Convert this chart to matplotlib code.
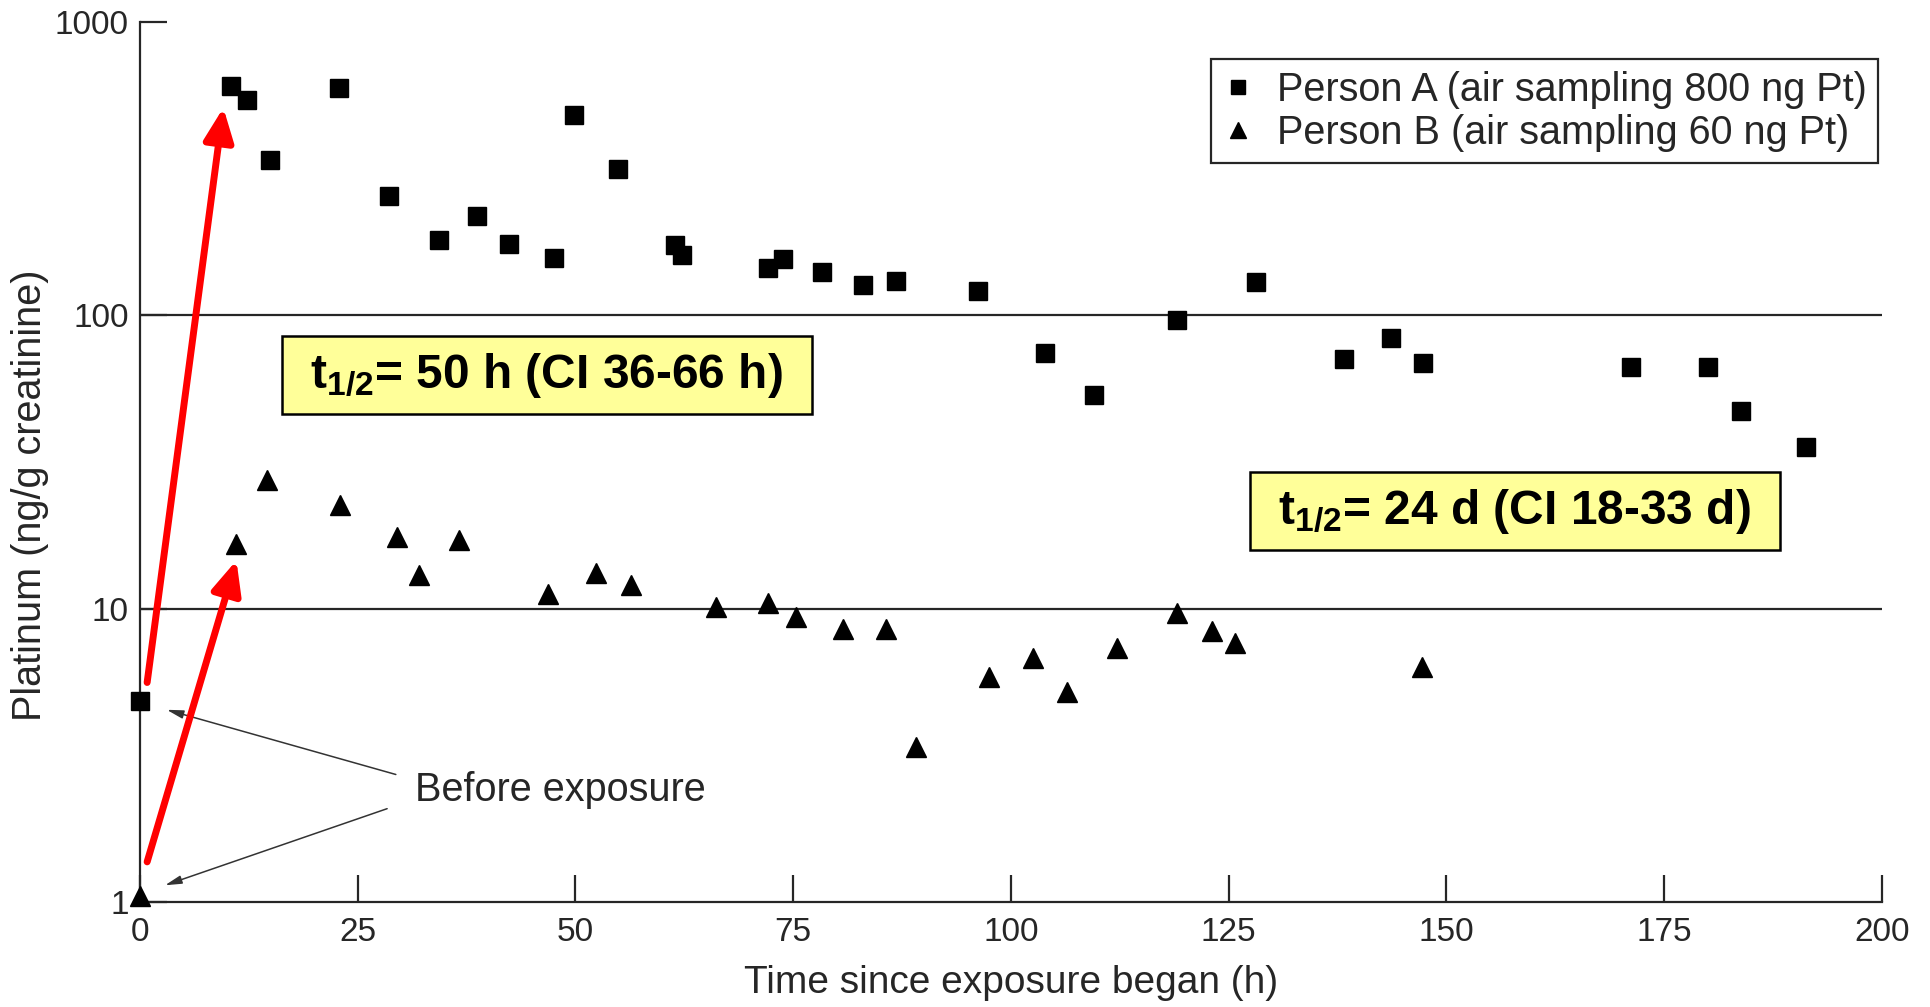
import numpy as np
import matplotlib
matplotlib.use("Agg")
import matplotlib.pyplot as plt

# ---------------------------------------------------------------------------
# Data
# ---------------------------------------------------------------------------
# Person A (air sampling 800 ng Pt) - squares
time_a = [0, 10.5, 12.3, 14.9, 22.9, 28.6, 34.4, 38.7, 42.4, 47.5, 49.8, 54.9,
          61.4, 62.3, 72.1, 73.9, 78.3, 83.0, 86.8, 96.2, 103.9, 109.6, 119.1,
          128.1, 138.3, 143.6, 147.3, 171.2, 180.0, 183.8, 191.3]
pt_a = [4.85, 603, 541, 338, 595, 255, 181, 218, 175, 157, 483, 316,
        173, 160, 145, 155, 141, 127, 131, 121, 74.6, 53.3, 96.7,
        130, 70.7, 84.0, 68.5, 66.4, 66.4, 47.3, 35.5]

# Person B (air sampling 60 ng Pt) - triangles
time_b = [0, 11.1, 14.65, 22.95, 29.5, 32.1, 36.6, 46.9, 52.4, 56.4, 66.2,
          72.1, 75.3, 80.7, 85.7, 89.1, 97.5, 102.5, 106.4, 112.2, 119.1,
          123.1, 125.7, 147.2]
pt_b = [1.05, 16.6, 27.4, 22.6, 17.6, 13.0, 17.1, 11.2, 13.2, 12.0, 10.1,
        10.45, 9.33, 8.55, 8.55, 3.38, 5.86, 6.77, 5.20, 7.35, 9.68,
        8.38, 7.66, 6.3]

label_a = "Person A (air sampling 800 ng Pt)"
label_b = "Person B (air sampling 60 ng Pt)"

x_ticks = [0, 25, 50, 75, 100, 125, 150, 175, 200]
y_ticks = [1, 10, 100, 1000]
grid_levels = [10, 100]

# red "rise" arrows: (start, tip) in data coordinates
rise_arrows = [((0.85, 5.6), (9.6, 510)),
               ((0.85, 1.37), (11.1, 14.6))]
# thin "before exposure" pointers: (tail, tip)
before_arrows = [((29.4, 2.72), (3.1, 4.52)),
                 ((28.4, 2.08), (2.9, 1.14))]
before_text = ("Before exposure", 31.6, 2.4)

half_lives = [(r"t$_{1/2}$= 50 h (CI 36-66 h)", 46.8, 62.5),
              (r"t$_{1/2}$= 24 d (CI 18-33 d)", 157.9, 21.5)]

# ---------------------------------------------------------------------------
plt.rcParams["font.family"] = ["Liberation Sans", "DejaVu Sans"]
plt.rcParams["mathtext.default"] = "regular"
ink = "#262626"

fig = plt.figure(figsize=(19.3, 10.07), dpi=100)
ax = fig.add_axes([0.0724, 0.1043, 0.9027, 0.8739])

ax.set_yscale("log")
ax.set_xlim(0, 200)
ax.set_ylim(1, 1000)

for lvl in grid_levels:
    ax.axhline(lvl, color=ink, lw=1.6, zorder=1)

ax.plot(time_a, pt_a, ls="none", marker="s", ms=12.5, color="black",
        label=label_a, clip_on=False, zorder=4)
ax.plot(time_b, pt_b, ls="none", marker="^", ms=14, color="black",
        label=label_b, clip_on=False, zorder=4)

# axes styling
for side in ("top", "right"):
    ax.spines[side].set_visible(False)
for side in ("left", "bottom"):
    ax.spines[side].set_color(ink)
    ax.spines[side].set_linewidth(1.6)

ax.set_xticks(x_ticks)
ax.set_xticklabels([str(v) for v in x_ticks])
ax.set_yticks(y_ticks)
ax.set_yticklabels([str(v) for v in y_ticks])
ax.minorticks_off()
ax.tick_params(axis="both", direction="in", length=19.5, width=1.6,
               color=ink, labelcolor=ink, labelsize=24)
ax.tick_params(axis="x", pad=11)
ax.tick_params(axis="y", pad=8)

ax.set_xlabel("Time since exposure began (h)", fontsize=28, color=ink,
              labelpad=12)
ax.set_ylabel("Platinum (ng/g creatinine)", fontsize=28.5, color=ink)
ax.yaxis.set_label_coords(-0.052, 0.462)

# legend
leg = ax.legend(loc="upper right", bbox_to_anchor=(0.998, 0.958),
                fontsize=28.5, frameon=True, fancybox=False, framealpha=1,
                handlelength=0.75, handletextpad=0.6, borderpad=0.3,
                labelspacing=0.12, markerscale=0.85, borderaxespad=0)
leg.get_frame().set_edgecolor(ink)
leg.get_frame().set_linewidth(1.6)
for t in leg.get_texts():
    t.set_color(ink)

# red arrows
for (x0, y0), (x1, y1) in rise_arrows:
    ax.annotate("", xy=(x1, y1), xytext=(x0, y0),
                arrowprops=dict(arrowstyle="-|>,head_length=1.0,head_width=0.45",
                                color="#ff0000", lw=5, mutation_scale=20,
                                shrinkA=0, shrinkB=0),
                zorder=5, annotation_clip=False)

# before exposure pointers
for (x0, y0), (x1, y1) in before_arrows:
    ax.annotate("", xy=(x1, y1), xytext=(x0, y0),
                arrowprops=dict(arrowstyle="-|>,head_length=1.0,head_width=0.25",
                                color="#333333", lw=1.1, mutation_scale=10,
                                shrinkA=0, shrinkB=0),
                zorder=3)
ax.text(before_text[1], before_text[2], before_text[0], fontsize=28.5,
        color=ink, ha="left", va="center")

# half-life boxes
for txt, hx, hy in half_lives:
    ax.text(hx, hy, " " + txt + "  ", fontsize=34.5, fontweight="bold",
            color="black", ha="center", va="center", zorder=6,
            bbox=dict(boxstyle="square,pad=0.3", facecolor="#ffff99",
                      edgecolor="black", linewidth=1.8))

fig.savefig("out.png", dpi=100)
plt.close(fig)
